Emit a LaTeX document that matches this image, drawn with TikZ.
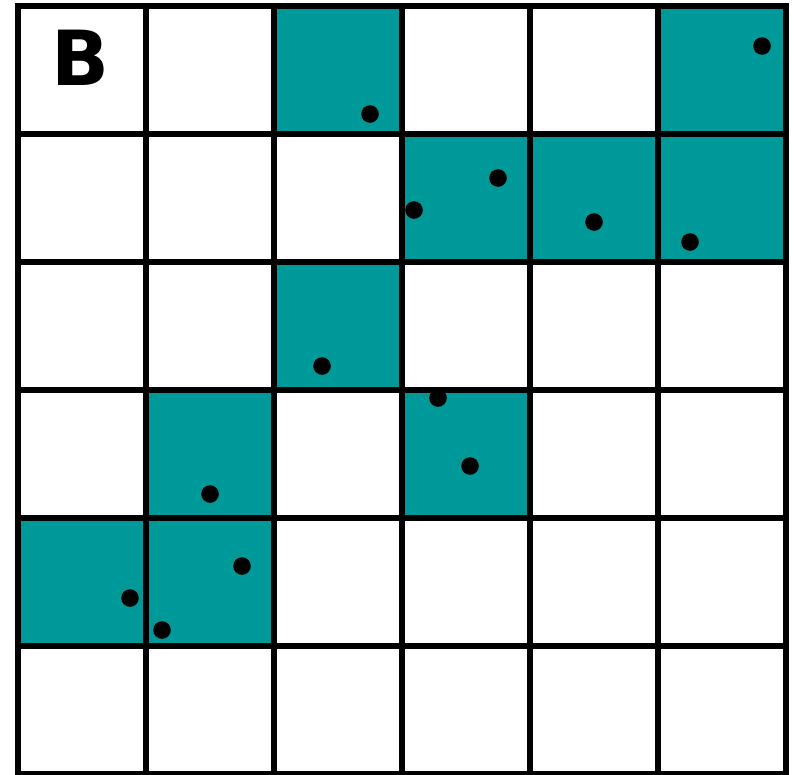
\documentclass[tikz,border=0pt]{standalone}
\usepackage{fontspec}
\newfontfamily\labelfont{DejaVu Sans}
\definecolor{tealcell}{RGB}{0,153,153}
\begin{document}
\begin{tikzpicture}[x=1pt,y=-1pt,
  cell/.style={fill=tealcell},
  gridline/.style={line width=6pt,black,line cap=rect},
  dot/.style={fill=black}]
\useasboundingbox (0,0) rectangle (794,774);
\fill[white] (0,0) rectangle (794,774);
% teal cells (col,row)
\foreach \c/\r in {2/0,5/0,3/1,4/1,5/1,2/2,1/3,3/3,0/4,1/4}{
  \fill[cell] ({18+128*\c},{6+128*\r}) rectangle ++(128,128);
}
% grid
\foreach \i in {0,...,6}{
  \draw[gridline] ({18+128*\i},6) -- ({18+128*\i},774);
  \draw[gridline] (18,{6+128*\i}) -- (786,{6+128*\i});
}
% dots
\foreach \x/\y in {370/114,762/46,498/178,414/210,594/222,690/242,322/366,438/398,470/466,210/494,242/566,130/598,162/630}{
  \fill[dot] (\x,\y) circle (8.8);
}
\node[font=\labelfont\bfseries\fontsize{76}{76}\selectfont, inner sep=0pt, anchor=base] (label) at (80,85) {B};
\end{tikzpicture}
\end{document}
